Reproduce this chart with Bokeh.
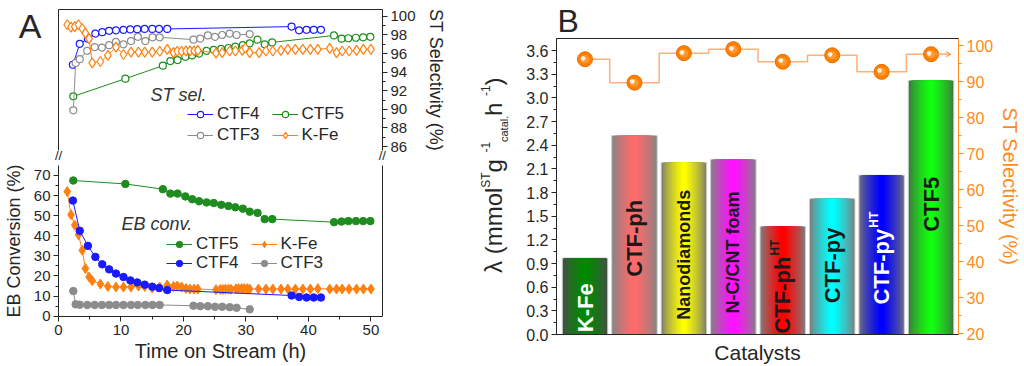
import math
from bokeh.plotting import figure
from bokeh.models import (Range1d, LinearAxis, FixedTicker, Label, Legend, LegendItem,
                          PrintfTickFormatter, Arrow, OpenHead, ColumnDataSource)
from bokeh.layouts import row, column
from bokeh.embed import file_html
from bokeh.resources import INLINE
from bokeh.core.properties import value

# ---------------- data: panel A ----------------
ctf4_t = [2.3, 3.4, 4.7, 5.9, 7.0, 8.1, 9.2, 10.4, 11.5, 12.6, 13.8, 15.0, 16.1, 17.4,
          37.3, 38.5, 39.7, 40.85, 42.0]
ctf4_sel = [94.8, 97.05, 97.6, 98.15, 98.3, 98.45, 98.5, 98.55, 98.6, 98.62, 98.65, 98.65, 98.65, 98.65,
            98.9, 98.5, 98.55, 98.55, 98.55]
ctf4_conv = [57.5, 42.5, 35.0, 29.5, 25.8, 23.3, 21.2, 19.5, 17.8, 16.8, 15.7, 14.7, 14.0, 13.0,
             10.3, 9.6, 9.3, 9.3, 9.3]

ctf5_t = [2.37, 10.7, 16.7, 17.9, 19.05, 20.3, 21.4, 22.5, 23.7, 24.85, 26.05, 27.2, 28.3, 29.5,
          30.6, 31.85, 33.0, 34.2, 44.1, 45.3, 46.4, 47.6, 48.75, 49.9]
ctf5_sel = [91.4, 93.3, 94.7, 95.2, 95.3, 95.65, 95.8, 96.0, 96.3, 96.4, 96.5, 96.6, 96.75, 96.9,
            97.1, 97.5, 97.0, 97.2, 97.95, 97.6, 97.65, 97.7, 97.75, 97.8]
ctf5_conv = [67.5, 65.8, 63.2, 61.0, 61.0, 59.6, 58.2, 57.2, 56.6, 56.3, 55.4, 54.8, 54.2, 53.5,
             52.0, 51.4, 48.3, 48.3, 46.8, 47.1, 47.3, 47.3, 47.3, 47.3]

ctf3_t = [2.37, 2.75, 3.4, 4.6, 5.8, 6.95, 8.1, 9.2, 10.4, 11.6, 12.7, 13.9, 15.05, 16.2,
          21.6, 22.7, 23.9, 25.05, 26.2, 27.4, 28.5, 30.6]
ctf3_sel = [89.9, 95.0, 95.4, 96.3, 96.7, 96.65, 96.9, 97.25, 97.0, 97.35, 97.8, 97.35, 97.75, 97.75,
            97.5, 97.6, 97.95, 97.8, 98.0, 98.15, 98.0, 98.1]
ctf3_conv = [12.5, 5.9, 5.7, 5.6, 5.6, 5.6, 5.6, 5.6, 5.6, 5.6, 5.6, 5.6, 5.6, 5.6,
             5.2, 5.0, 5.0, 4.7, 4.7, 4.5, 4.2, 3.4]

kfe_t_conv = [1.4, 2.0, 2.6, 3.2, 3.8, 4.3, 4.9, 5.4, 6.7, 7.9, 9.2, 10.4, 11.6, 12.8, 13.8, 15.0,
              16.2, 17.4, 18.4, 19.0, 19.7, 20.4, 21.05, 21.7, 22.3,
              25.2, 25.9, 26.3, 26.7, 27.2, 27.6, 28.4, 28.8, 29.3, 29.7, 30.2, 30.6,
              32.0, 33.2, 34.3, 35.6, 36.7, 37.9, 39.1, 40.3, 41.5,
              43.4, 44.5, 45.4, 46.5, 47.7, 48.8, 50.0]
kfe_conv = [62.0, 50.5, 45.3, 40.5, 32.8, 23.7, 19.5, 17.6, 16.0, 14.8, 14.5, 14.5, 14.5, 15.0, 14.8, 14.0,
            14.5, 15.5, 14.8, 15.0, 14.5, 13.8, 13.5, 13.5, 13.5,
            13.2, 13.3, 13.3, 13.4, 13.4, 13.4, 13.6, 13.7, 13.7, 13.7, 13.7, 13.5,
            13.5, 13.5, 13.5, 13.5, 13.5, 13.5, 13.5, 13.5, 13.7,
            13.5, 13.5, 13.5, 13.5, 13.5, 13.5, 13.5]
kfe_t_sel = [1.4, 2.0, 2.6, 3.2, 3.8, 4.3, 4.9, 5.4, 6.7, 7.9, 9.2, 10.4, 11.6, 12.8, 13.8, 15.0,
             16.2, 17.4, 18.4, 19.0, 19.7, 20.4, 21.05, 21.7, 22.3,
             25.2, 26.2, 27.4, 28.3, 29.4, 29.9, 30.6, 32.1, 33.2, 34.3, 35.6, 36.7, 37.9,
             39.1, 40.3, 41.5, 43.4, 44.5, 45.4, 46.5, 47.7, 48.8, 50.0]
kfe_sel = [99.1, 98.85, 98.9, 99.1, 98.7, 98.2, 97.6, 95.0, 95.15, 95.8, 96.7, 95.9, 96.15, 96.15, 96.15, 96.15,
           96.25, 96.45, 96.1, 96.25, 96.25, 96.3, 96.3, 96.3, 96.35,
           96.05, 96.1, 96.28, 96.28, 96.35, 96.6, 96.1, 96.1, 96.28, 96.28, 96.35, 96.46, 96.46,
           96.46, 96.46, 96.46, 96.56, 96.1, 96.28, 96.28, 96.35, 96.46, 96.46]

# ---------------- data: panel B ----------------
catalysts = ["K-Fe", "CTF-ph", "Nanodiamonds", "N-C/CNT foam", "CTF-ph^HT", "CTF-py", "CTF-py^HT", "CTF5"]
rate = [0.97, 2.52, 2.18, 2.22, 1.37, 1.72, 2.02, 3.22]
st_selectivity = [96.2, 89.7, 97.9, 99.0, 95.5, 97.3, 92.7, 97.6]

# ---------------- styles ----------------
FONT = "Liberation Sans"
INK = "#262626"
BLUE = "#1a1aff"
GREEN = "#1e8c1e"
GRAY = "#8c8c8c"
ORANGE = "#ff8010"
AXIS_OR = "#ff8c1a"


def style_axis(ax, color=INK, size="15px", tick=True):
    ax.axis_line_color = color
    ax.major_tick_line_color = color if tick else None
    ax.minor_tick_line_color = color if tick else None
    ax.major_tick_out = 5 if tick else 0
    ax.major_tick_in = 0
    ax.minor_tick_out = 3 if tick else 0
    ax.minor_tick_in = 0
    ax.major_label_text_font = FONT
    ax.major_label_text_font_size = size
    ax.major_label_text_color = color
    ax.major_label_standoff = 3
    ax.axis_label_text_font = FONT
    ax.axis_label_text_font_style = "normal"
    ax.axis_label_text_color = color


def bare_axis(ax):
    ax.ticker = FixedTicker(ticks=[])
    style_axis(ax, tick=False)
    ax.major_label_standoff = 0
    ax.major_label_text_font_size = "0px"


def add_label(p, text, x, y, size, angle=0.0, align="left", baseline="alphabetic",
              color=INK, style="normal"):
    p.add_layout(Label(x=x, y=y, x_units="screen", y_units="screen", text=text, angle=angle,
                       text_align=align, text_baseline=baseline, text_font=FONT,
                       text_font_size=f"{size}px", text_color=color, text_font_style=style))


def legend_row(p, items, x, y):
    lg = Legend(items=items, orientation="horizontal", location=(x, y), padding=0, margin=0,
                spacing=12, label_standoff=4, glyph_width=26, glyph_height=16, label_height=16,
                label_text_font=FONT, label_text_font_size="17px", label_text_color=INK,
                background_fill_alpha=0, border_line_alpha=0)
    p.add_layout(lg)


# ================= Panel A (broken axis: two stacked frames) =================
XMAX = 51.85
xr = Range1d(0, XMAX)
pa1 = figure(width=470, height=165, min_border_left=53, min_border_right=88,
             min_border_top=9, min_border_bottom=12, x_range=xr, y_range=Range1d(85.58, 100.74),
             x_axis_location=None, title=None, output_backend="svg", toolbar_location=None)
pa2 = figure(width=470, height=201, min_border_left=53, min_border_right=88,
             min_border_top=0, min_border_bottom=50, x_range=xr, y_range=Range1d(-0.15, 74.97),
             title=None, output_backend="svg", toolbar_location=None)
for p in (pa1, pa2):
    p.grid.visible = False
    p.outline_line_color = None

# top frame: left axis carries the panel letter, right axis the selectivity scale
ya = pa1.yaxis[0]
style_axis(ya, tick=False, size="34px")
ya.ticker = FixedTicker(ticks=[98.95])
ya.major_label_overrides = {98.95: "A"}
ya.major_label_standoff = 17
ra1 = LinearAxis(ticker=FixedTicker(ticks=list(range(86, 101, 2)), minor_ticks=list(range(87, 100, 2))),
                 axis_label="ST Selectivity (%)")
style_axis(ra1)
ra1.axis_label_text_font_size = "18px"
ra1.axis_label_standoff = 7
pa1.add_layout(ra1, "right")
top_ax = LinearAxis()
bare_axis(top_ax)
pa1.add_layout(top_ax, "above")
# axis-break marks across both vertical axes, in the gap between the two frames
brk = LinearAxis(ticker=FixedTicker(ticks=[0.02, XMAX - 0.02]),
                 major_label_overrides={0.02: "//", XMAX - 0.02: "//"})
style_axis(brk, tick=False, size="13px")
brk.axis_line_color = None
brk.major_label_standoff = -3
pa1.add_layout(brk, "below")

# bottom frame
xa = pa2.xaxis[0]
xa.ticker = FixedTicker(ticks=[0, 10, 20, 30, 40, 50], minor_ticks=[5, 15, 25, 35, 45])
style_axis(xa)
xa.axis_label = "Time on Stream (h)"
xa.axis_label_text_font_size = "20px"
xa.axis_label_standoff = 2
yb = pa2.yaxis[0]
yb.ticker = FixedTicker(ticks=list(range(0, 71, 10)), minor_ticks=list(range(5, 76, 10)))
style_axis(yb)
yb.axis_label = "EB Conversion (%)"
yb.axis_label_text_font_size = "18px"
yb.axis_label_standoff = 7
ra2 = LinearAxis()
bare_axis(ra2)
pa2.add_layout(ra2, "right")

series_sel = [
    ("CTF4", ctf4_t, ctf4_sel, BLUE, "circle", 7),
    ("CTF5", ctf5_t, ctf5_sel, GREEN, "circle", 7),
    ("CTF3", ctf3_t, ctf3_sel, GRAY, "circle", 7),
    ("K-Fe", kfe_t_sel, kfe_sel, ORANGE, "diamond", 10),
]
sel_r = {}
for name, t, v, c, m, s in series_sel:
    l = pa1.line(t, v, line_color=c, line_width=1)
    sc = pa1.scatter(t, v, marker=m, size=s, fill_color="white", line_color=c, line_width=1.2)
    sel_r[name] = [l, sc]

series_conv = [
    ("CTF5", ctf5_t, ctf5_conv, GREEN, "circle", 7.5),
    ("CTF3", ctf3_t, ctf3_conv, GRAY, "circle", 7.5),
    ("K-Fe", kfe_t_conv, kfe_conv, ORANGE, "diamond", 10),
    ("CTF4", ctf4_t, ctf4_conv, BLUE, "circle", 7.5),
]
conv_r = {}
for name, t, v, c, m, s in series_conv:
    l = pa2.line(t, v, line_color=c, line_width=1)
    sc = pa2.scatter(t, v, marker=m, size=s, fill_color=c, line_color=c, line_width=1)
    conv_r[name] = [l, sc]

legend_row(pa1, [LegendItem(label="CTF4", renderers=sel_r["CTF4"]),
                 LegendItem(label="CTF5", renderers=sel_r["CTF5"])], 129, 26)
legend_row(pa1, [LegendItem(label="CTF3", renderers=sel_r["CTF3"]),
                 LegendItem(label="K-Fe", renderers=sel_r["K-Fe"])], 129, 5)
legend_row(pa2, [LegendItem(label="CTF5", renderers=conv_r["CTF5"]),
                 LegendItem(label="K-Fe", renderers=conv_r["K-Fe"])], 108, 62)
legend_row(pa2, [LegendItem(label="CTF4", renderers=conv_r["CTF4"]),
                 LegendItem(label="CTF3", renderers=conv_r["CTF3"])], 108, 43)

add_label(pa1, "ST sel.", 92, 56, 18, baseline="middle", color="#333333", style="italic")
add_label(pa2, "EB conv.", 63, 93, 18, baseline="middle", color="#333333", style="italic")

# ================= Panel B =================
n = len(catalysts)
xs = list(range(1, n + 1))
pb = figure(width=554, height=366, min_border_left=86, min_border_right=62,
            min_border_top=36, min_border_bottom=32,
            x_range=Range1d(0.423, 8.555), y_range=Range1d(0, 3.753),
            output_backend="svg", toolbar_location=None)
pb.title.text = "B"
pb.title.text_font = FONT
pb.title.text_font_size = "32px"
pb.title.text_font_style = "normal"
pb.title.text_color = INK
pb.title.align = "left"
pb.title.offset = 1
pb.title.standoff = 0
pb.extra_y_ranges = {"sel": Range1d(19.8, 101.96)}
pb.grid.visible = False
pb.outline_line_color = INK

xb = pb.xaxis[0]
bare_axis(xb)
xb.axis_label = "Catalysts"
xb.axis_label_text_font_size = "21px"
xb.axis_label_standoff = 6

yl = pb.yaxis[0]
yl.ticker = FixedTicker(ticks=[round(0.3 * i, 1) for i in range(13)],
                        minor_ticks=[round(0.15 + 0.3 * i, 2) for i in range(12)])
yl.formatter = PrintfTickFormatter(format="%.1f")
style_axis(yl, size="16px")
rbx = LinearAxis(y_range_name="sel",
                 ticker=FixedTicker(ticks=list(range(20, 101, 10)), minor_ticks=list(range(25, 100, 10))),
                 axis_label="ST Selectivity (%)")
style_axis(rbx, color=AXIS_OR, size="16px")
rbx.axis_label_text_font_size = "20px"
rbx.axis_label_standoff = 3
pb.add_layout(rbx, "right")

# composite y title: lambda (mmol^ST g^-1_catal. h^-1), built from text pieces on label-only axes
REG_W = {"λ": .52, " ": .278, "(": .333, ")": .333, "m": .833, "o": .556, "l": .222, "S": .667,
         "T": .611, "g": .556, "-": .333, "1": .556, "c": .5, "a": .556, "t": .278, ".": .278, "h": .556}
pieces = [("λ (mmol", "main"), ("ST", "sup"), (" g", "main"), ("-1", "sup"), ("catal.", "sub"),
          (" h", "main"), ("-1", "sup"), (")", "main")]
piece_font = {"main": 24, "sup": 12, "sub": 11}
piece_standoff = {"sub": 13, "main": -12, "sup": -16}
px_per_unit = 298 / 3.753
cursor = 272.0  # window y where the title starts (bottom end)
groups = {"main": {}, "sup": {}, "sub": {}}
for txt, kind in pieces:
    w = sum(REG_W.get(ch, 0.55) for ch in txt) * piece_font[kind]
    center = cursor - w / 2
    v = round((334 - center) / px_per_unit, 3)
    groups[kind][v] = txt
    cursor -= w
for kind in ("sub", "main", "sup"):
    ax = LinearAxis(ticker=FixedTicker(ticks=list(groups[kind].keys())),
                    major_label_overrides=groups[kind], major_label_orientation="vertical")
    style_axis(ax, tick=False, size=f"{piece_font[kind]}px")
    ax.axis_line_color = None
    ax.major_label_standoff = piece_standoff[kind]
    pb.add_layout(ax, "left")

# gradient bars
edge_cols = ["#465046", "#858585", "#7d7d6e", "#828282", "#7f7f7f", "#7d7d7d", "#6e6e80", "#3e7a3e"]
center_cols = ["#008a00", "#ff6a6a", "#ffff00", "#ff10ff", "#ff0000", "#00ffff", "#0000ff", "#10ff10"]


def hex2rgb(h):
    return tuple(int(h[i:i + 2], 16) for i in (1, 3, 5))


def blend(a, b, t):
    ra, rb = hex2rgb(a), hex2rgb(b)
    return "#%02x%02x%02x" % tuple(int(round(ra[i] + (rb[i] - ra[i]) * t)) for i in range(3))


BAR_W = 0.92
NL = 14
for k in range(NL):
    f = k / (NL - 1)
    w = BAR_W * (1 - 0.9 * f)
    cols = [blend(edge_cols[i], center_cols[i], f ** 0.75) for i in range(n)]
    pb.vbar(x=xs, top=rate, bottom=0, width=w, fill_color=cols,
            line_color="#cfcfcf" if k == 0 else None, line_width=1)

# bar labels
label_mid = [0.34, 1.22, 1.01, 1.04, 0.50, 0.875, 0.86, 1.65]
label_size = ["22px", "22px", "18px", "18px", "22px", "22px", "22px", "22px"]
label_col = ["white", "#1a1a1a", "#1a1a1a", "#1a1a1a", "#1a1a1a", "#1a1a1a", "white", "#1a1a1a"]
main_txt = [c.split("^")[0] for c in catalysts]
src = ColumnDataSource(dict(x=xs, y=label_mid, t=main_txt, s=label_size, c=label_col))
pb.text(x="x", y="y", text="t", source=src, angle=math.pi / 2, text_align="center",
        text_baseline="middle", text_font=value(FONT), text_font_style="bold",
        text_font_size="s", text_color="c")
BOLD_W = {"C": .722, "T": .611, "F": .611, "-": .333, "p": .611, "h": .611, "y": .556}
for i, c in enumerate(catalysts):
    if "^" in c:
        base, sup = c.split("^")
        half = sum(BOLD_W.get(ch, 0.6) for ch in base) * 22 / 2
        pb.text(x=[xs[i]], y=[label_mid[i]], text=[sup], angle=math.pi / 2, text_align="left",
                text_baseline="middle", x_offset=-8, y_offset=-(half + 1),
                text_font=value(FONT), text_font_style="bold", text_font_size="12px",
                text_color=label_col[i])

# selectivity step line + spheres
pb.step(xs, st_selectivity, mode="center", y_range_name="sel", line_color="#ffb07a", line_width=1.5)
pb.add_layout(Arrow(x_start=xs[-1], y_start=st_selectivity[-1], x_end=xs[-1] + 0.4,
                    y_end=st_selectivity[-1], y_range_name="sel", line_color="#ff9a50", line_width=1.2,
                    end=OpenHead(size=5, line_color="#ff9a50", line_width=1.2)))
pb.scatter(xs, st_selectivity, y_range_name="sel", size=15, fill_color="#ff8000",
           line_color="#e86f00", line_width=1)
pb.scatter(xs, st_selectivity, y_range_name="sel", size=8, fill_color="#ffa040",
           line_color=None, fill_alpha=0.8)
pb.text(xs, st_selectivity, text=["●"] * n, y_range_name="sel", x_offset=-2, y_offset=-2,
        text_align="center", text_baseline="middle", text_font=value("DejaVu Sans"),
        text_font_size="6px", text_color="white", text_alpha=0.9)

layout = row(column(pa1, pa2), pb)
open("out.html", "w").write(file_html(layout, INLINE))
